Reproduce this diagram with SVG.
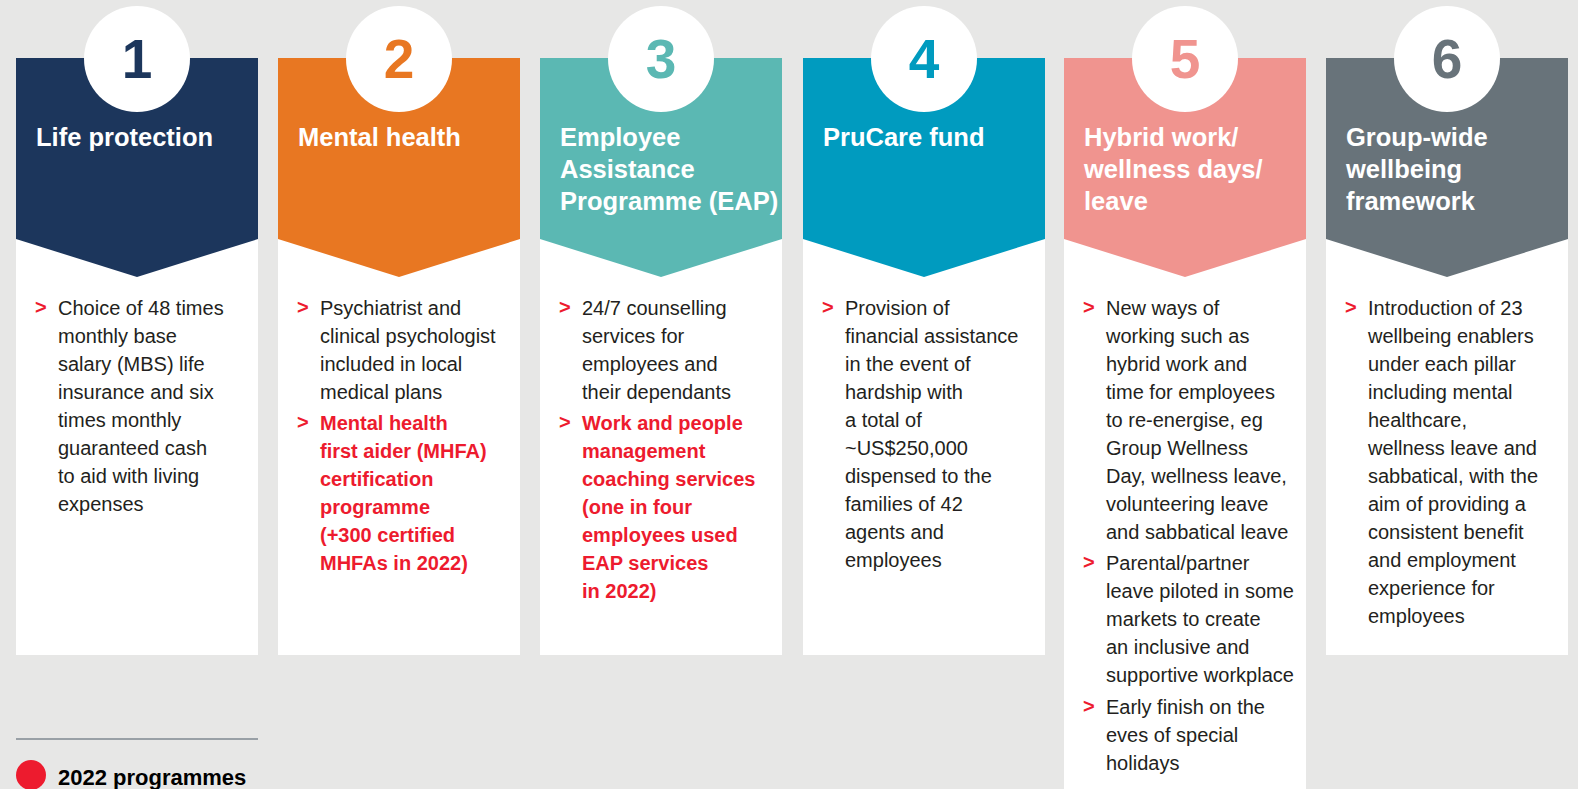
<svg xmlns="http://www.w3.org/2000/svg" width="1578" height="789" viewBox="0 0 1578 789">
<style>
.body{fill:#ffffff}
.circ{fill:#ffffff}
.num{font-family:"Liberation Sans",Arial,sans-serif;font-weight:bold;font-size:55px;text-anchor:middle}
.hd{font-family:"Liberation Sans",Arial,sans-serif;font-weight:bold;font-size:25.5px;fill:#ffffff}
.tx{font-family:"Liberation Sans",Arial,sans-serif;font-size:20px;fill:#231f20}
.rd{font-family:"Liberation Sans",Arial,sans-serif;font-size:20px;font-weight:bold;fill:#ed1b2e}
.bl{font-family:"Liberation Sans",Arial,sans-serif;font-size:20px;font-weight:bold;fill:#ed1b2e}
</style>
<rect x="0" y="0" width="1578" height="789" fill="#e7e7e6"/>

<g id="node1" transform="translate(16,0)">
<rect class="body" x="0" y="230" width="242" height="425"/>
<path d="M0,58 H242 V239 L121,277 L0,239 Z" fill="#1c365c"/>
<circle class="circ" cx="121" cy="59" r="53"/>
<text class="num" x="121" y="78" fill="#1c365c">1</text>
<text class="hd" x="20" y="146">Life protection</text>
<text class="bl" x="19" y="314">&gt;</text>
<text class="tx"><tspan x="42" y="315">Choice of 48 times</tspan><tspan x="42" y="343">monthly base</tspan><tspan x="42" y="371">salary (MBS) life</tspan><tspan x="42" y="399">insurance and six</tspan><tspan x="42" y="427">times monthly</tspan><tspan x="42" y="455">guaranteed cash</tspan><tspan x="42" y="483">to aid with living</tspan><tspan x="42" y="511">expenses</tspan></text>
</g>

<g id="node2" transform="translate(278,0)">
<rect class="body" x="0" y="230" width="242" height="425"/>
<path d="M0,58 H242 V239 L121,277 L0,239 Z" fill="#e87722"/>
<circle class="circ" cx="121" cy="59" r="53"/>
<text class="num" x="121" y="78" fill="#e87722">2</text>
<text class="hd" x="20" y="146">Mental health</text>
<text class="bl" x="19" y="314">&gt;</text>
<text class="tx"><tspan x="42" y="315">Psychiatrist and</tspan><tspan x="42" y="343">clinical psychologist</tspan><tspan x="42" y="371">included in local</tspan><tspan x="42" y="399">medical plans</tspan></text>
<text class="bl" x="19" y="429">&gt;</text>
<text class="rd"><tspan x="42" y="430">Mental health</tspan><tspan x="42" y="458">first aider (MHFA)</tspan><tspan x="42" y="486">certification</tspan><tspan x="42" y="514">programme</tspan><tspan x="42" y="542">(+300 certified</tspan><tspan x="42" y="570">MHFAs in 2022)</tspan></text>
</g>

<g id="node3" transform="translate(540,0)">
<rect class="body" x="0" y="230" width="242" height="425"/>
<path d="M0,58 H242 V239 L121,277 L0,239 Z" fill="#5bb8b3"/>
<circle class="circ" cx="121" cy="59" r="53"/>
<text class="num" x="121" y="78" fill="#5bb8b3">3</text>
<text class="hd"><tspan x="20" y="146">Employee</tspan><tspan x="20" y="178">Assistance</tspan><tspan x="20" y="210">Programme (EAP)</tspan></text>
<text class="bl" x="19" y="314">&gt;</text>
<text class="tx"><tspan x="42" y="315">24/7 counselling</tspan><tspan x="42" y="343">services for</tspan><tspan x="42" y="371">employees and</tspan><tspan x="42" y="399">their dependants</tspan></text>
<text class="bl" x="19" y="429">&gt;</text>
<text class="rd"><tspan x="42" y="430">Work and people</tspan><tspan x="42" y="458">management</tspan><tspan x="42" y="486">coaching services</tspan><tspan x="42" y="514">(one in four</tspan><tspan x="42" y="542">employees used</tspan><tspan x="42" y="570">EAP services</tspan><tspan x="42" y="598">in 2022)</tspan></text>
</g>

<g id="node4" transform="translate(803,0)">
<rect class="body" x="0" y="230" width="242" height="425"/>
<path d="M0,58 H242 V239 L121,277 L0,239 Z" fill="#009bbf"/>
<circle class="circ" cx="121" cy="59" r="53"/>
<text class="num" x="121" y="78" fill="#009bbf">4</text>
<text class="hd" x="20" y="146">PruCare fund</text>
<text class="bl" x="19" y="314">&gt;</text>
<text class="tx"><tspan x="42" y="315">Provision of</tspan><tspan x="42" y="343">financial assistance</tspan><tspan x="42" y="371">in the event of</tspan><tspan x="42" y="399">hardship with</tspan><tspan x="42" y="427">a total of</tspan><tspan x="42" y="455">~US$250,000</tspan><tspan x="42" y="483">dispensed to the</tspan><tspan x="42" y="511">families of 42</tspan><tspan x="42" y="539">agents and</tspan><tspan x="42" y="567">employees</tspan></text>
</g>

<g id="node5" transform="translate(1064,0)">
<rect class="body" x="0" y="230" width="242" height="570"/>
<path d="M0,58 H242 V239 L121,277 L0,239 Z" fill="#f0948f"/>
<circle class="circ" cx="121" cy="59" r="53"/>
<text class="num" x="121" y="78" fill="#f0948f">5</text>
<text class="hd"><tspan x="20" y="146">Hybrid work/</tspan><tspan x="20" y="178">wellness days/</tspan><tspan x="20" y="210">leave</tspan></text>
<text class="bl" x="19" y="314">&gt;</text>
<text class="tx"><tspan x="42" y="315">New ways of</tspan><tspan x="42" y="343">working such as</tspan><tspan x="42" y="371">hybrid work and</tspan><tspan x="42" y="399">time for employees</tspan><tspan x="42" y="427">to re-energise, eg</tspan><tspan x="42" y="455">Group Wellness</tspan><tspan x="42" y="483">Day, wellness leave,</tspan><tspan x="42" y="511">volunteering leave</tspan><tspan x="42" y="539">and sabbatical leave</tspan></text>
<text class="bl" x="19" y="569">&gt;</text>
<text class="tx"><tspan x="42" y="570">Parental/partner</tspan><tspan x="42" y="598">leave piloted in some</tspan><tspan x="42" y="626">markets to create</tspan><tspan x="42" y="654">an inclusive and</tspan><tspan x="42" y="682">supportive workplace</tspan></text>
<text class="bl" x="19" y="713">&gt;</text>
<text class="tx"><tspan x="42" y="714">Early finish on the</tspan><tspan x="42" y="742">eves of special</tspan><tspan x="42" y="770">holidays</tspan></text>
</g>

<g id="node6" transform="translate(1326,0)">
<rect class="body" x="0" y="230" width="242" height="425"/>
<path d="M0,58 H242 V239 L121,277 L0,239 Z" fill="#68737a"/>
<circle class="circ" cx="121" cy="59" r="53"/>
<text class="num" x="121" y="78" fill="#68737a">6</text>
<text class="hd"><tspan x="20" y="146">Group-wide</tspan><tspan x="20" y="178">wellbeing</tspan><tspan x="20" y="210">framework</tspan></text>
<text class="bl" x="19" y="314">&gt;</text>
<text class="tx"><tspan x="42" y="315">Introduction of 23</tspan><tspan x="42" y="343">wellbeing enablers</tspan><tspan x="42" y="371">under each pillar</tspan><tspan x="42" y="399">including mental</tspan><tspan x="42" y="427">healthcare,</tspan><tspan x="42" y="455">wellness leave and</tspan><tspan x="42" y="483">sabbatical, with the</tspan><tspan x="42" y="511">aim of providing a</tspan><tspan x="42" y="539">consistent benefit</tspan><tspan x="42" y="567">and employment</tspan><tspan x="42" y="595">experience for</tspan><tspan x="42" y="623">employees</tspan></text>
</g>

<g id="legend">
<line x1="16" y1="739" x2="258" y2="739" stroke="#7f8890" stroke-width="1.5"/>
<circle cx="31" cy="775" r="15" fill="#ed1b2e"/>
<text x="58" y="785" font-family="'Liberation Sans',Arial,sans-serif" font-weight="bold" font-size="22" fill="#000000">2022 programmes</text>
</g>
</svg>
